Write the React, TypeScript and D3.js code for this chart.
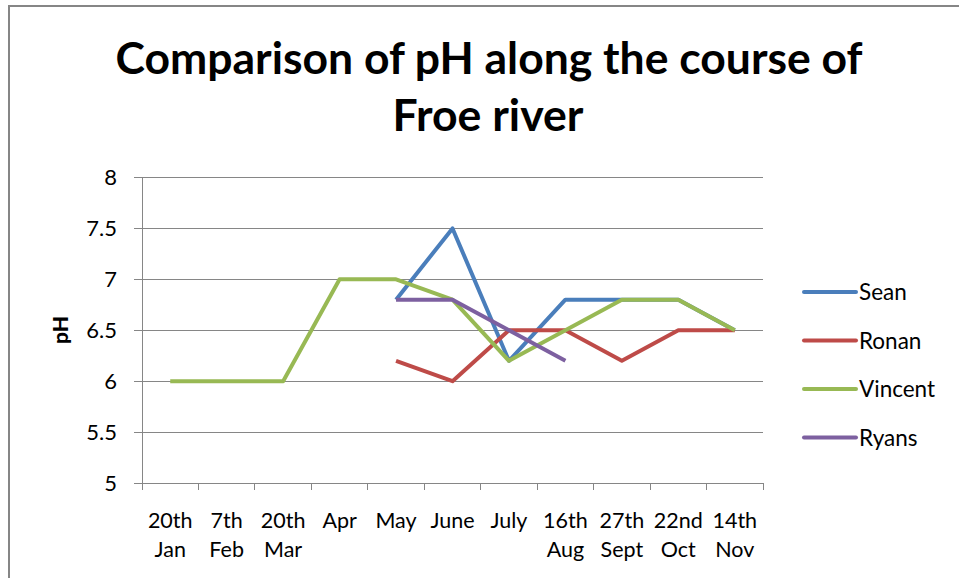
import * as d3 from "d3";

const categories = [
  ["20th", "Jan"],
  ["7th", "Feb"],
  ["20th", "Mar"],
  ["Apr"],
  ["May"],
  ["June"],
  ["July"],
  ["16th", "Aug"],
  ["27th", "Sept"],
  ["22nd", "Oct"],
  ["14th", "Nov"],
];

const sean = [null, null, null, null, 6.8, 7.5, 6.2, 6.8, 6.8, 6.8, 6.5];
const ronan = [null, null, null, null, 6.2, 6.0, 6.5, 6.5, 6.2, 6.5, 6.5];
const vincent = [6, 6, 6, 7, 7, 6.8, 6.2, 6.5, 6.8, 6.8, 6.5];
const ryans = [null, null, null, null, 6.8, 6.8, 6.5, 6.2, null, null, null];

const yTicks = [5, 5.5, 6, 6.5, 7, 7.5, 8];

const series = [
  { name: "Sean", values: sean, color: "#4A7EBB" },
  { name: "Ronan", values: ronan, color: "#BE4B48" },
  { name: "Vincent", values: vincent, color: "#98B954" },
  { name: "Ryans", values: ryans, color: "#7D60A0" },
];

const W = 959;
const H = 578;
const plot = { left: 142, right: 763, top: 177.5, bottom: 483 };
const font = "Lato, 'Open Sans', sans-serif";

export default function App() {
  const x = d3
    .scaleBand<number>()
    .domain(categories.map((_, i) => i))
    .range([plot.left, plot.right]);
  const y = d3.scaleLinear().domain([5, 8]).range([plot.bottom, plot.top]);

  const line = d3
    .line<number | null>()
    .defined((d) => d !== null)
    .x((_, i) => x(i)! + x.bandwidth() / 2)
    .y((d) => y(d as number));

  const bounds = [...categories.map((_, i) => x(i)!), plot.right];

  return (
    <svg
      width={W}
      height={H}
      style={{ position: "absolute", left: 0, top: 0, background: "#fff" }}
    >
      <rect x={9} y={6} width={W + 20} height={H + 20} fill="#fff" stroke="#868686" strokeWidth={2} />

      <text x={489} y={74} textAnchor="middle" fontFamily={font} fontWeight="bold" fontSize={43} textLength={747} lengthAdjust="spacingAndGlyphs" fill="#000">
        Comparison of pH along the course of
      </text>
      <text x={488} y={131} textAnchor="middle" fontFamily={font} fontWeight="bold" fontSize={43} textLength={191} lengthAdjust="spacingAndGlyphs" fill="#000">
        Froe river
      </text>

      {/* gridlines */}
      {yTicks.map((t) => (
        <g key={t}>
          <line x1={plot.left} x2={plot.right} y1={y(t)} y2={y(t)} stroke="#868686" strokeWidth={1} shapeRendering="crispEdges" />
          <line x1={plot.left - 8} x2={plot.left} y1={y(t)} y2={y(t)} stroke="#868686" strokeWidth={1} shapeRendering="crispEdges" />
          <text x={117} y={y(t)} dy="0.35em" textAnchor="end" fontFamily={font} fontSize={22} fill="#000">
            {t}
          </text>
        </g>
      ))}

      {/* y axis */}
      <line x1={plot.left} x2={plot.left} y1={plot.top} y2={plot.bottom} stroke="#868686" strokeWidth={1} shapeRendering="crispEdges" />
      {/* x axis ticks */}
      {bounds.map((b, i) => (
        <line key={i} x1={b} x2={b} y1={plot.bottom} y2={plot.bottom + 7} stroke="#868686" strokeWidth={1} shapeRendering="crispEdges" />
      ))}
      {categories.map((c, i) => (
        <text key={i} x={x(i)! + x.bandwidth() / 2} textAnchor="middle" fontFamily={font} fontSize={21.5} fill="#000">
          {c.map((l, j) => (
            <tspan key={j} x={x(i)! + x.bandwidth() / 2} y={528 + j * 29}>
              {l}
            </tspan>
          ))}
        </text>
      ))}

      <text transform="translate(68,330) rotate(-90)" textAnchor="middle" fontFamily={font} fontWeight="900" fontSize={21} fill="#000">
        pH
      </text>

      {series.map((s) => (
        <path key={s.name} d={line(s.values) ?? ""} fill="none" stroke={s.color} strokeWidth={4} strokeLinejoin="round" />
      ))}

      {series.map((s, i) => (
        <g key={s.name} transform={`translate(0,${292 + i * 48.5})`}>
          <line x1={804} x2={856} y1={0} y2={0} stroke={s.color} strokeWidth={4} strokeLinecap="round" />
          <text x={859} y={0} dy="0.36em" fontFamily={font} fontSize={22.5} fill="#000">
            {s.name}
          </text>
        </g>
      ))}
    </svg>
  );
}
